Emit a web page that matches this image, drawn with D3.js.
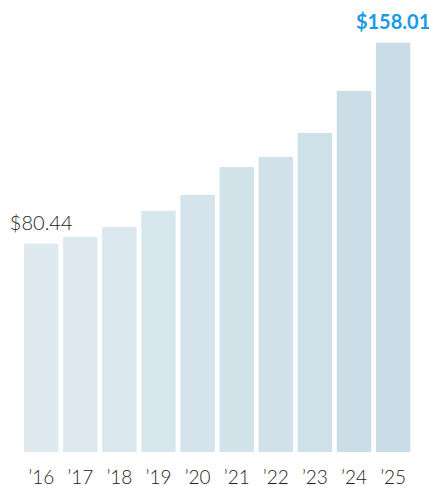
<!DOCTYPE html>
<html>
<head>
<meta charset="utf-8">
<script src="https://cdn.jsdelivr.net/npm/d3@7"></script>
<style>
  body { margin: 0; background: #fff; overflow: hidden; }
  text { font-family: Lato, "Open Sans", sans-serif; }
</style>
</head>
<body>
<div id="chart"></div>
<script>
// svg container
var svgWidth = 429;
var svgHeight = 486;

// data
var years = ["’16", "’17", "’18", "’19", "’20", "’21", "’22", "’23", "’24", "’25"];
var values = [80.44, 83.0, 86.9, 93.1, 99.2, 110.0, 113.9, 123.2, 139.4, 158.01];
var labels = ["$80.44", "", "", "", "", "", "", "", "", "$158.01"];

var data = years.map(function(y, i) {
  return { year: y, value: values[i], label: labels[i], i: i };
});

var svg = d3.select("#chart")
  .append("svg")
  .attr("width", svgWidth)
  .attr("height", svgHeight)
  .style("display", "block");

// scales
var xScale = d3.scaleBand()
  .domain(years)
  .range([24, 410.3])
  .paddingInner(0.12)
  .paddingOuter(0);

var yScale = d3.scaleLinear()
  .domain([0, d3.max(values)])
  .range([452, 42.7]);

var colorScale = d3.scaleLinear()
  .domain([0, years.length - 1])
  .range(["#dfeaf0", "#c9dde6"]);

// bars
svg.selectAll("rect.bar")
  .data(data)
  .enter()
  .append("rect")
  .attr("class", "bar")
  .attr("x", d => xScale(d.year))
  .attr("width", xScale.bandwidth())
  .attr("y", d => yScale(d.value))
  .attr("height", d => yScale(0) - yScale(d.value))
  .attr("fill", d => colorScale(d.i));

// x axis labels
var xAxis = d3.axisBottom(xScale).tickSize(0).tickPadding(0);
var axisG = svg.append("g")
  .attr("transform", "translate(0, 484)")
  .call(xAxis);
axisG.select(".domain").remove();
axisG.selectAll("text")
  .attr("font-size", 19)
  .attr("font-weight", 300)
  .attr("fill", "#222")
  .attr("y", 0)
  .attr("dy", 0)
  .style("font-family", "Lato, 'Open Sans', sans-serif");

// value labels on first and last bar
svg.selectAll("text.val")
  .data(data.filter(d => d.label !== ""))
  .enter()
  .append("text")
  .attr("class", "val")
  .attr("x", d => xScale(d.year) + xScale.bandwidth() / 2)
  .attr("y", d => yScale(d.value) - 14)
  .attr("text-anchor", "middle")
  .attr("font-size", (d, i) => i === 1 ? 20 : 20)
  .attr("font-weight", (d, i) => i === 1 ? 700 : 300)
  .attr("fill", (d, i) => i === 1 ? "#1a9ae6" : "#222")
  .text(d => d.label);
</script>
</body>
</html>
